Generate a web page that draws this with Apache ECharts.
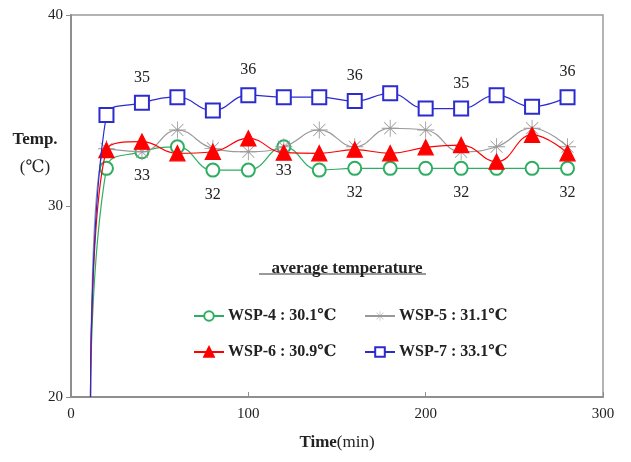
<!DOCTYPE html>
<html>
<head>
<meta charset="utf-8">
<script src="https://cdn.jsdelivr.net/npm/echarts@6/dist/echarts.min.js"></script>
<style>html,body{margin:0;padding:0;background:#fff}#c{width:631px;height:462px}</style>
</head>
<body>
<div id="c"></div>
<script>
const times = [20, 40, 60, 80, 100, 120, 140, 160, 180, 200, 220, 240, 260, 280];
const startPoint = [11, 20];
const wsp4 = [31.97, 32.84, 33.1, 31.88, 31.88, 33.1, 31.88, 31.97, 31.97, 31.97, 31.97, 31.97, 31.97, 31.97];
const wsp5 = [33.0, 32.84, 33.98, 33.02, 32.84, 33.1, 33.98, 33.1, 34.07, 33.98, 32.84, 33.1, 34.07, 33.1];
const wsp6 = [32.93, 33.37, 32.76, 32.84, 33.54, 32.79, 32.76, 32.95, 32.76, 33.07, 33.19, 32.32, 33.72, 32.76];
const wsp7 = [34.76, 35.4, 35.7, 35.0, 35.8, 35.7, 35.7, 35.5, 35.9, 35.1, 35.1, 35.8, 35.2, 35.7];
const seriesNames = ['WSP-4', 'WSP-5', 'WSP-6', 'WSP-7'];
const averages = ['30.1', '31.1', '30.9', '33.1'];
const wsp7Labels = ['', '35', '', '', '36', '', '', '36', '', '', '35', '', '', '36'];
const wsp4Labels = ['', '33', '', '32', '', '33', '', '32', '', '', '32', '', '', '32'];
const yTicks = [20, 30, 40];
const xTicks = [0, 100, 200, 300];

const serif = '"Liberation Serif", "DejaVu Serif", serif';
const starPath = 'path://M-0.5,-10L0.5,-10L0.5,10L-0.5,10Z M-10,-0.5L10,-0.5L10,0.5L-10,0.5Z M-7.4,-6.7L-6.7,-7.4L7.4,6.7L6.7,7.4Z M6.7,-7.4L7.4,-6.7L-6.7,7.4L-7.4,6.7Z';

function build(vals) {
  const d = [{ value: startPoint.slice(), symbol: 'none', label: { show: false } }];
  vals.forEach((v, i) => d.push({ value: [times[i], v] }));
  return d;
}

const styles = [
  { color: '#2fae62', symbol: 'emptyCircle', size: 13, labels: wsp4Labels, pos: 'bottom' },
  { color: '#999999', symbol: starPath, size: 17, labels: null },
  { color: '#ff0000', symbol: 'triangle', size: 15, labels: null },
  { color: '#2b2bd0', symbol: 'emptyRect', size: 14, labels: wsp7Labels, pos: 'top' }
];
const allVals = [wsp4, wsp5, wsp6, wsp7];

const series = seriesNames.map((n, k) => {
  const s = styles[k];
  const lab = s.labels;
  return {
    name: n,
    type: 'line',
    smooth: 0.45,
    data: build(allVals[k]),
    symbol: s.symbol,
    symbolSize: s.size,
    z: 2 + k,
    lineStyle: { color: s.color, width: 1.2 },
    itemStyle: { color: s.color, borderColor: s.color, borderWidth: k === 3 ? 2 : (k === 1 ? 0 : 1.3) },
    label: lab ? {
      show: true,
      position: s.pos,
      distance: 9,
      fontFamily: serif,
      fontSize: 16,
      color: '#222',
      formatter: p => lab[p.dataIndex - 1] || ''
    } : { show: false },
    emphasis: { disabled: true },
    animation: false
  };
});

const legendPos = [[188, 303], [359, 303], [188, 339], [359, 339]];
const legends = seriesNames.map((n, k) => ({
  data: [n],
  left: legendPos[k][0],
  top: legendPos[k][1],
  itemWidth: 30,
  itemHeight: 12,
  itemGap: 0,
  selectedMode: false,
  formatter: name => name + ' : ' + averages[k] + '℃',
  textStyle: { fontFamily: serif, fontWeight: 'bold', fontSize: 16, color: '#222', padding: [0, 0, 0, -1] }
}));

const chart = echarts.init(document.getElementById('c'), null, { renderer: 'canvas' });
chart.setOption({
  animation: false,
  backgroundColor: '#fff',
  grid: { left: 71, right: 28, top: 15, bottom: 65, show: true, borderColor: '#9a9a9a', borderWidth: 1.5, containLabel: false, outerBoundsMode: 'none' },
  title: {
    text: 'average temperature',
    left: 342,
    top: 255,
    textAlign: 'center',
    textStyle: { fontFamily: serif, fontWeight: 'bold', fontSize: 17, color: '#222' }
  },
  graphic: [{
    type: 'line',
    shape: { x1: 259, y1: 274, x2: 426, y2: 274 },
    style: { stroke: '#333', lineWidth: 1 }
  }],
  legend: legends,
  xAxis: {
    type: 'value',
    min: xTicks[0],
    max: xTicks[xTicks.length - 1],
    interval: 100,
    name: '{b|Time}{n|(min)}',
    nameLocation: 'middle',
    nameGap: 37,
    nameMoveOverlap: false,
    nameTextStyle: {
      rich: {
        b: { fontFamily: serif, fontWeight: 'bold', fontSize: 17, color: '#222' },
        n: { fontFamily: serif, fontSize: 17, color: '#222' }
      }
    },
    axisLine: { show: true, lineStyle: { color: '#8f8f8f', width: 2 } },
    axisTick: { show: true, inside: true, length: 5, lineStyle: { color: '#8f8f8f' } },
    axisLabel: { fontFamily: serif, fontSize: 15, color: '#222', margin: 10 },
    splitLine: { show: false }
  },
  yAxis: {
    type: 'value',
    min: yTicks[0],
    max: yTicks[yTicks.length - 1],
    interval: 10,
    name: '{b|Temp.}\n{n|(℃)}',
    nameLocation: 'middle',
    nameRotate: 0,
    nameGap: 14,
    nameMoveOverlap: false,
    nameTextStyle: {
      padding: [0, 0, 104, 0],
      rich: {
        b: { fontFamily: serif, fontWeight: 'bold', fontSize: 17, color: '#222', width: 44, align: 'center', lineHeight: 28 },
        n: { fontFamily: serif, fontSize: 17, color: '#222', width: 44, align: 'center', lineHeight: 28 }
      }
    },
    axisLine: { show: true, lineStyle: { color: '#8f8f8f', width: 2 } },
    axisTick: { show: true, inside: false, length: 5, lineStyle: { color: '#8f8f8f' } },
    axisLabel: { fontFamily: serif, fontSize: 15, color: '#222', margin: 8 },
    splitLine: { show: false }
  },
  series: series
});
</script>
</body>
</html>
